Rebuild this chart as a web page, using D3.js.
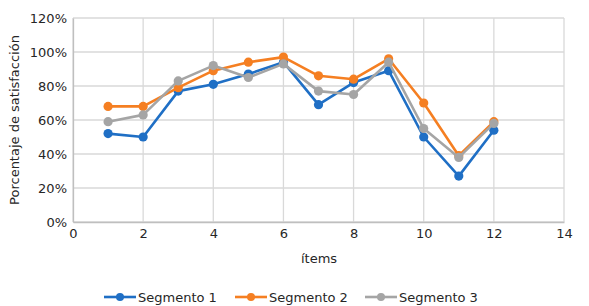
<!DOCTYPE html>
<html><head><meta charset="utf-8">
<script src="https://cdn.jsdelivr.net/npm/d3@7"></script>
<style>body{margin:0;background:#fff}svg{display:block}text{font-family:"DejaVu Sans",Verdana,sans-serif;fill:#262626}</style>
</head><body><div id="c"></div>
<script>
const items = [1,2,3,4,5,6,7,8,9,10,11,12];
const segmento1 = [0.52,0.50,0.77,0.81,0.87,0.94,0.69,0.82,0.89,0.50,0.27,0.54];
const segmento2 = [0.68,0.68,0.79,0.89,0.94,0.97,0.86,0.84,0.96,0.70,0.39,0.59];
const segmento3 = [0.59,0.63,0.83,0.92,0.85,0.93,0.77,0.75,0.94,0.55,0.38,0.58];
const seriesNames = ["Segmento 1","Segmento 2","Segmento 3"];
const colors = ["#1F6FC5","#F57F22","#A5A5A5"];
const xTicks = [0,2,4,6,8,10,12,14];
const yTicks = [0,0.2,0.4,0.6,0.8,1.0,1.2];

const W=589,H=306;
const m={l:73,r:25,t:18,b:84};
const svg=d3.select("#c").append("svg").attr("width",W).attr("height",H);
const x=d3.scaleLinear().domain([0,14]).range([m.l,W-m.r]);
const y=d3.scaleLinear().domain([0,1.2]).range([H-m.b,m.t]);

const g=svg.append("g");
// gridlines
g.selectAll(".vg").data(xTicks).join("line")
 .attr("x1",d=>x(d)).attr("x2",d=>x(d)).attr("y1",y(1.2)).attr("y2",y(0))
 .attr("stroke","#D9D9D9").attr("stroke-width",1.3);
g.selectAll(".hg").data(yTicks).join("line")
 .attr("x1",x(0)).attr("x2",x(14)).attr("y1",d=>y(d)).attr("y2",d=>y(d))
 .attr("stroke","#D9D9D9").attr("stroke-width",1.3);

const fmt=d3.format(".0%");
const yAxis=svg.append("g").attr("transform",`translate(${x(0)},0)`)
 .call(d3.axisLeft(y).tickValues(yTicks).tickFormat(fmt).tickSize(0).tickPadding(6));
yAxis.select(".domain").attr("stroke","#BFBFBF").attr("stroke-width",1.3);
yAxis.selectAll("text").style("font-size","13px").attr("fill","#262626");
const xAxis=svg.append("g").attr("transform",`translate(0,${y(0)})`)
 .call(d3.axisBottom(x).tickValues(xTicks).tickSize(0).tickPadding(7));
xAxis.select(".domain").attr("stroke","#BFBFBF").attr("stroke-width",1.3);
xAxis.selectAll("text").style("font-size","13px").attr("fill","#262626");

svg.append("text").attr("x",319).attr("y",263).attr("text-anchor","middle").style("font-size","13px").text("ítems");
svg.append("text").attr("transform",`translate(19,${(y(0)+y(1.2))/2}) rotate(-90)`).attr("text-anchor","middle").style("font-size","13px").text("Porcentaje de satisfacción");

const all=[segmento1,segmento2,segmento3];
const line=d3.line().x((d,i)=>x(items[i])).y(d=>y(d));
all.forEach((s,k)=>{
  svg.append("path").datum(s).attr("d",line).attr("fill","none").attr("stroke",colors[k]).attr("stroke-width",2.6).attr("stroke-linejoin","round");
  svg.append("g").selectAll("circle").data(s).join("circle")
   .attr("cx",(d,i)=>x(items[i])).attr("cy",d=>y(d)).attr("r",4.6).attr("fill",colors[k]);
});

const legX=[104,235,365];
seriesNames.forEach((n,k)=>{
  const lg=svg.append("g").attr("transform",`translate(${legX[k]},297)`);
  lg.append("line").attr("x1",0).attr("x2",32).attr("stroke",colors[k]).attr("stroke-width",2.6);
  lg.append("circle").attr("cx",16).attr("r",4).attr("fill",colors[k]);
  lg.append("text").attr("x",34).attr("y",5).style("font-size","13px").text(n);
});
</script></body></html>
